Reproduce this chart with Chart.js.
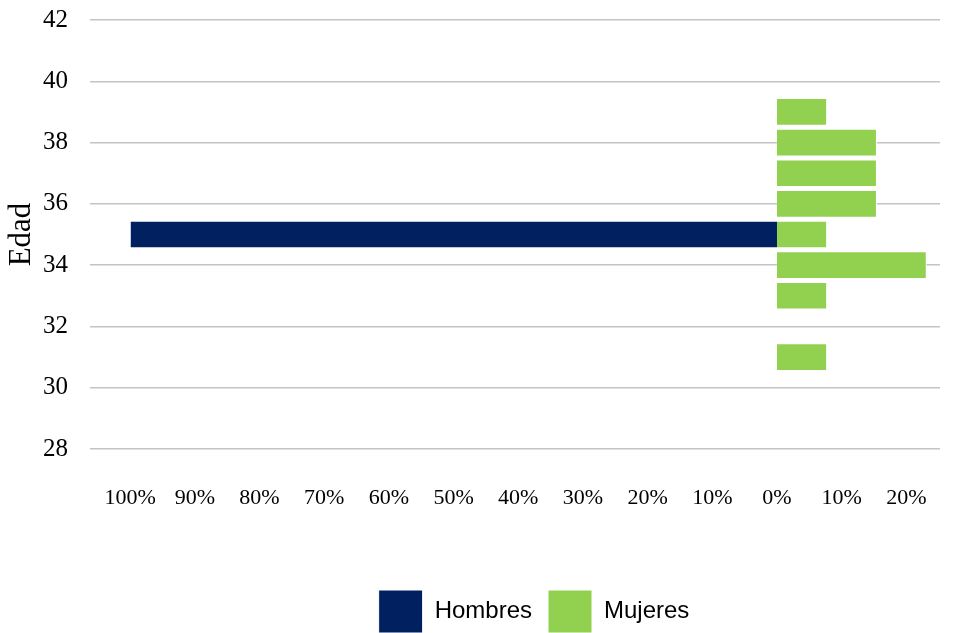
<!DOCTYPE html>
<html>
<head>
<meta charset="utf-8">
<script src="https://cdn.jsdelivr.net/npm/chart.js@4"></script>
<style>
  html, body { margin: 0; padding: 0; background: #ffffff; }
  #wrap { width: 955px; height: 633px; position: relative; }
</style>
</head>
<body>
<div id="wrap"><canvas id="c" width="955" height="633"></canvas></div>
<script>
// Data
const edades = [31, 33, 34, 35, 36, 37, 38, 39];
const hombresEdades = [35];
const hombresValores = [-100];          // % (drawn to the left)
const mujeresValores = [7.7, 7.7, 23.1, 7.7, 15.4, 15.4, 15.4, 7.7]; // %
const xTicks = [-100, -90, -80, -70, -60, -50, -40, -30, -20, -10, 0, 10, 20];
const yMin = 28, yMax = 42, yStep = 2;
const seriesNames = ['Hombres', 'Mujeres'];
const axisTitle = 'Edad';

const serif = "'Liberation Serif', 'Times New Roman', serif";
const sans = "'Liberation Sans', Arial, sans-serif";

const legendShift = {
  id: 'legendShift',
  afterLayout(chart) {
    const lg = chart.legend;
    if (!lg) return;
    const dx = 64, dy = 10;
    lg.left += dx; lg.right += dx;
    lg.top += dy; lg.bottom += dy;
  }
};

new Chart(document.getElementById('c'), {
  type: 'bar',
  data: {
    datasets: [
      {
        label: seriesNames[0],
        data: hombresEdades.map((e, i) => ({ x: hombresValores[i], y: e })),
        backgroundColor: '#002060',
        borderColor: '#ffffff',
        borderWidth: 1,
        barThickness: 27,
        grouped: false
      },
      {
        label: seriesNames[1],
        data: edades.map((e, i) => ({ x: mujeresValores[i], y: e })),
        backgroundColor: '#92D050',
        borderColor: '#ffffff',
        borderWidth: 1,
        barThickness: 27,
        grouped: false
      }
    ]
  },
  options: {
    indexAxis: 'y',
    responsive: false,
    animation: false,
    layout: { padding: { top: 20, right: 15, left: 0, bottom: 0 } },
    scales: {
      x: {
        type: 'linear',
        min: -106.2,
        max: 25.2,
        grid: { display: false, drawTicks: false },
        border: { display: false },
        afterBuildTicks(scale) { scale.ticks = xTicks.map(v => ({ value: v })); },
        afterFit(scale) { scale.height = 115; },
        ticks: {
          autoSkip: false,
          maxRotation: 0,
          padding: 0,
          color: '#000000',
          font: { family: serif, size: 22, lineHeight: '98px' },
          callback: v => Math.abs(v) + '%'
        }
      },
      y: {
        type: 'linear',
        min: yMin,
        max: yMax,
        offset: false,
        afterFit(scale) {
          scale.width = 90;
          scale.paddingTop = 0;
          scale.paddingBottom = 0;
        },
        grid: { offset: false, color: '#c4c4c4', lineWidth: 1.5, drawTicks: false },
        border: { display: false },
        ticks: {
          stepSize: yStep,
          padding: 22,
          color: '#000000',
          font: { family: serif, size: 25 }
        },
        title: {
          display: true,
          text: axisTitle,
          color: '#000000',
          font: { family: serif, size: 31 },
          padding: { top: 3, bottom: 0 }
        }
      }
    },
    plugins: {
      tooltip: { enabled: false },
      legend: {
        position: 'bottom',
        align: 'center',
        labels: {
          boxWidth: 44,
          boxHeight: 43,
          padding: 16,
          color: '#000000',
          font: { family: sans, size: 24 }
        }
      }
    }
  },
  plugins: [legendShift]
});
</script>
</body>
</html>
